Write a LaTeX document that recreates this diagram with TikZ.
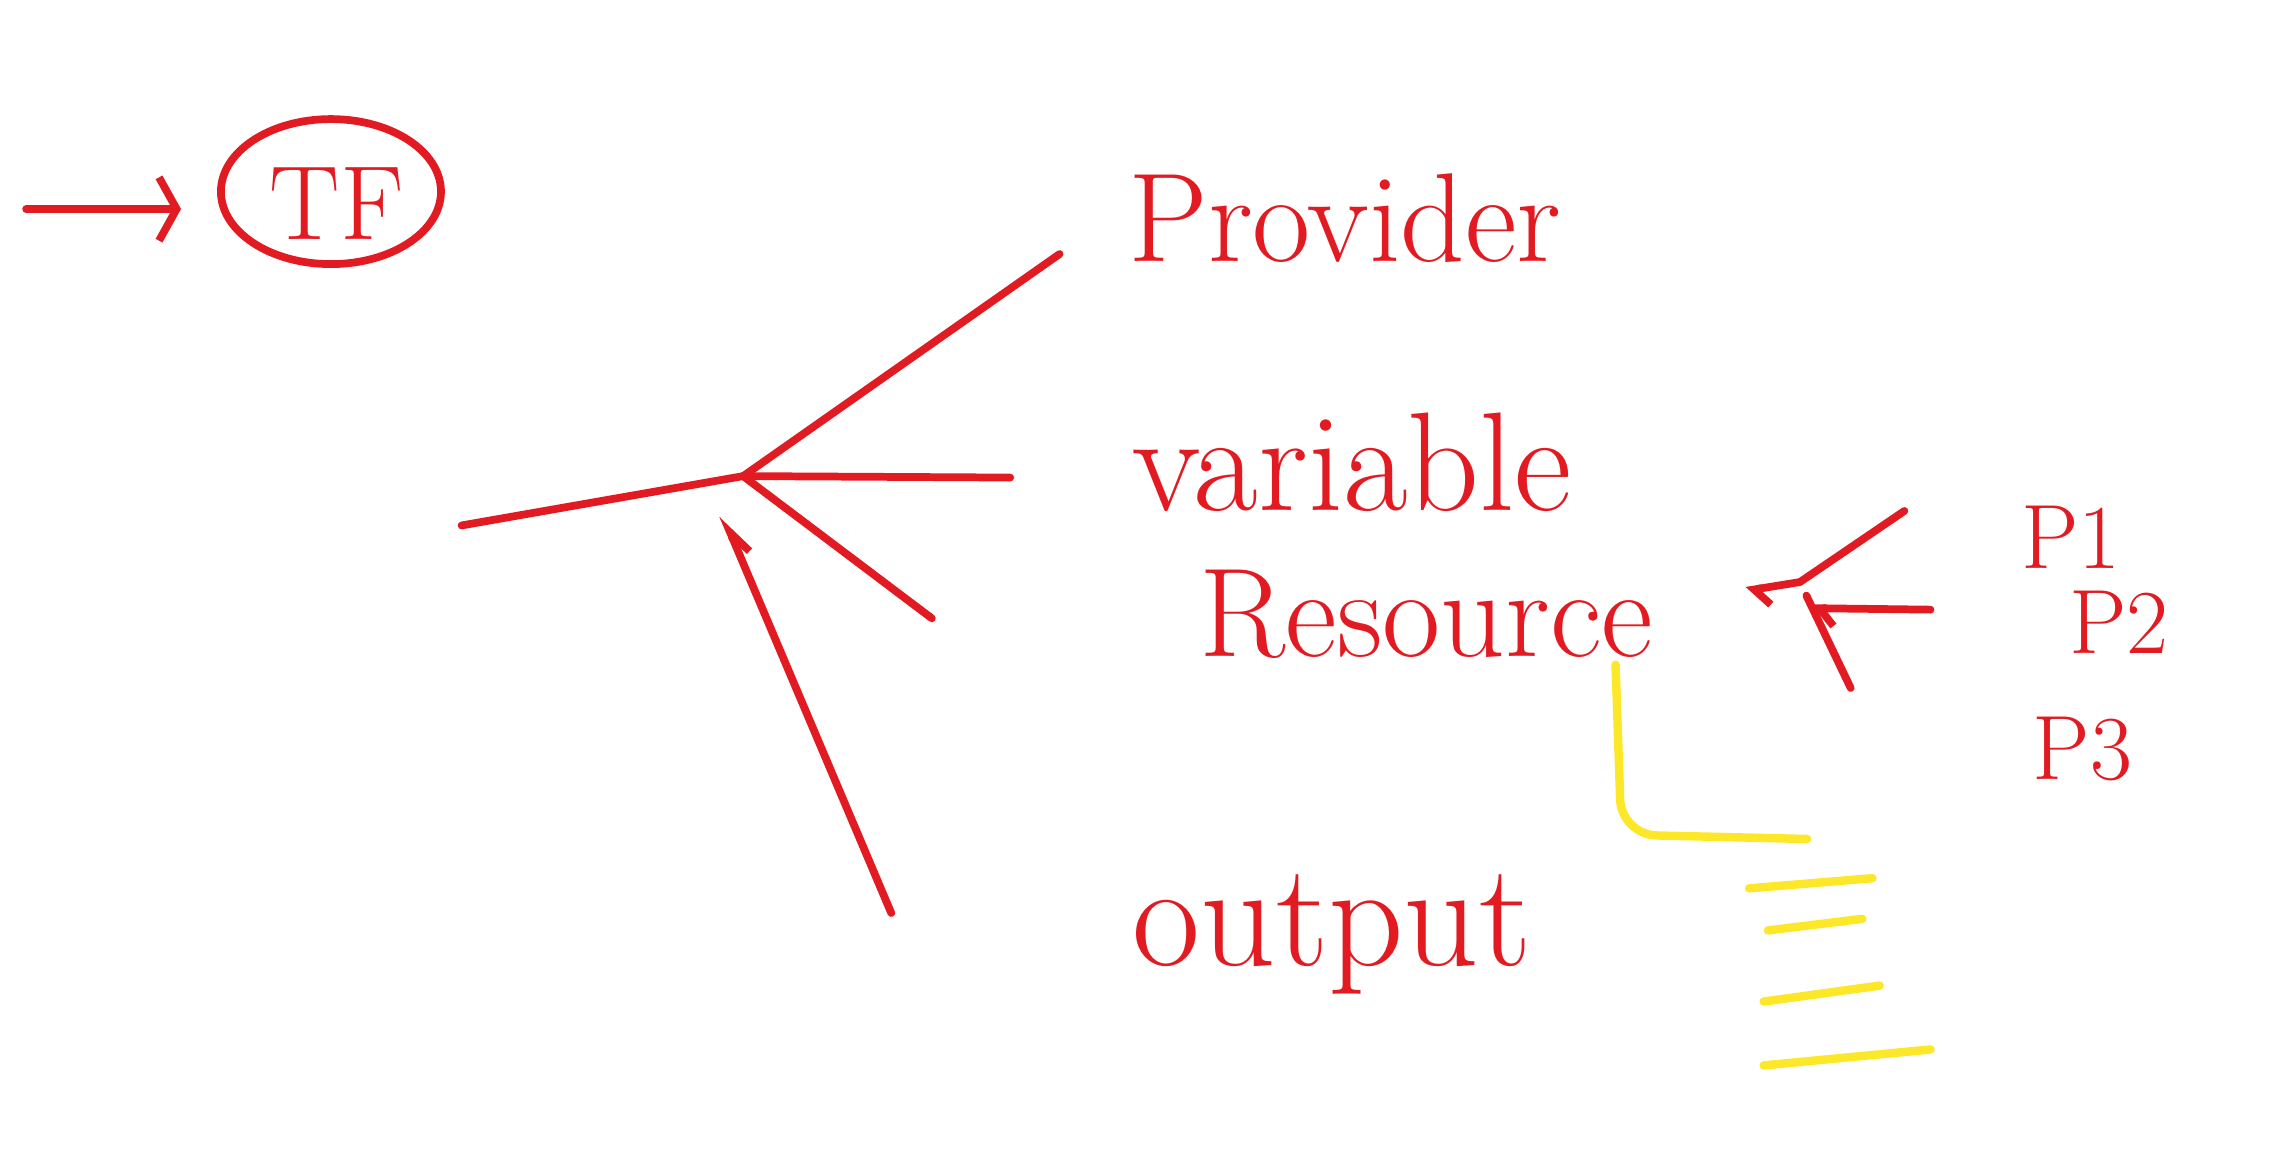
\documentclass[tikz,border=0pt]{standalone}
\usepackage{tikz}
\usetikzlibrary{arrows.meta,shapes.geometric}
\definecolor{penred}{RGB}{226,27,34}
\definecolor{penyellow}{RGB}{252,232,40}
\tikzset{
  pen/.style={penred, line width=2.2pt, line cap=round, line join=round},
  hilite/.style={penyellow, line width=2.4pt, line cap=round, line join=round},
  word/.style={penred, inner sep=0pt},
  plabel/.style={penred, font=\fontsize{26}{30}\selectfont, inner sep=0pt},
}
\begin{document}
\begin{tikzpicture}[x=0.014515cm, y=-0.014515cm]
\useasboundingbox (0,0) rectangle (1568,805);

\coordinate (IN) at (18,144) ;
\node[pen, draw, ellipse, minimum width=2.2cm, minimum height=1.45cm] (TF) at (228,132) {};
\node[penred, font=\fontsize{30}{34}\selectfont] (TFtext) at (232,140) {TF};
\draw [pen, >={Straight Barb[length=5pt,width=18pt]}, ->, shorten >=0.36cm] (IN) -- (IN -| TF.west) ;

\node[word, font=\fontsize{36}{40}\selectfont, anchor=base west] (provider) at (777,180) {Provider};
\node[word, font=\fontsize{40}{44}\selectfont, anchor=base west] (variable) at (780,352) {variable};
\node[word, font=\fontsize{36}{40}\selectfont, anchor=base west] (resource) at (826,452) {Resource};
\node[word, font=\fontsize{42}{46}\selectfont, anchor=base west] (output) at (780,665) {output};

\coordinate (H) at (512,328) ;
\coordinate (HL) at (318,362) ;
\coordinate (HUR) at (730,175) ;
\coordinate (HMR) at (696,329) ;
\coordinate (HLR) at (642,426) ;
\coordinate (HB) at (614,629) ;
\coordinate (HBtip) at (498,355) ;
\draw [pen] (H) -- (HL) ;
\draw [pen] (H) -- (HUR) ;
\draw [pen] (H) -- (HMR) ;
\draw [pen] (H) -- (HLR) ;
\draw [pen, >={Straight Barb[harpoon,swap,length=7pt,width=6pt]}, ->] (HB) -- (HBtip) ;

\coordinate (R) at (1240,401) ;
\coordinate (RL) at (1203,407) ;
\coordinate (RUR) at (1312,352) ;
\coordinate (RMR) at (1330,420) ;
\coordinate (RMRend) at (1248,419) ;
\coordinate (RLR) at (1275,474) ;
\draw [pen, >={Straight Barb[harpoon,length=4pt,width=10pt]}, ->] (R) -- (RL) ;
\draw [pen] (R) -- (RUR) ;
\draw [pen, >={Straight Barb[harpoon,length=4pt,width=10pt]}, ->] (RMR) -- (RMRend) ;
\draw [pen, shorten <=0.15cm] (R) -- (RLR) ;

\node[plabel, anchor=base west] (P1) at (1392,392) {P1};
\node[plabel, anchor=base west] (P2) at (1425,450) {P2};
\node[plabel, anchor=base west] (P3) at (1400,537) {P3};

\draw [hilite, rounded corners=10pt] (1113,458) -- (1117,575) -- (1245,578) ;
\draw [hilite] (1205,612) -- (1290,605) ;
\draw [hilite] (1218,641) -- (1283,633) ;
\draw [hilite] (1215,690) -- (1295,679) ;
\draw [hilite] (1215,734) -- (1330,723) ;
\end{tikzpicture}
\end{document}
